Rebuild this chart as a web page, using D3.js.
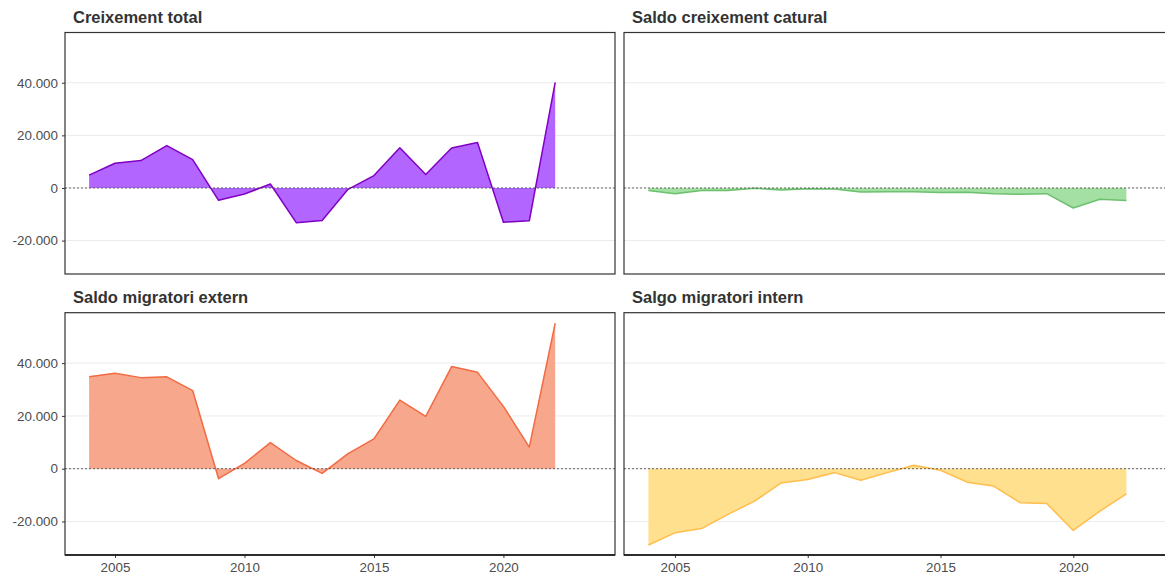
<!DOCTYPE html>
<html>
<head>
<meta charset="utf-8">
<script src="https://cdn.jsdelivr.net/npm/d3@7"></script>
<style>
  body { margin: 0; background: #fff; }
  svg { display: block; font-family: "Liberation Sans", Arial, sans-serif; }
</style>
</head>
<body>
<div id="my_dataviz"></div>
<script>
// data
const years = [2004, 2005, 2006, 2007, 2008, 2009, 2010, 2011, 2012, 2013, 2014, 2015, 2016, 2017, 2018, 2019, 2020, 2021, 2022];

const creixementTotal = [4900, 9400, 10400, 16100, 10800, -4700, -2300, 1500, -13200, -12400, -500, 4700, 15300, 5100, 15200, 17300, -13000, -12500, 40100];
const saldoNatural = [-1000, -2150, -1000, -1000, -100, -750, -250, -400, -1500, -1400, -1400, -1750, -1650, -2150, -2400, -2150, -7600, -4300, -4800];
const saldoExtern = [34800, 36200, 34500, 34800, 29600, -3800, 2000, 9900, 3100, -1800, 5700, 11300, 26000, 19800, 38700, 36500, 23600, 8200, 55100];
const saldoIntern = [-28900, -24300, -22700, -17300, -12300, -5400, -4100, -1500, -4400, -1500, 1300, -600, -5100, -6600, -12900, -13200, -23400, -16100, -9500];

const panelTitles = ["Creixement total", "Saldo creixement catural", "Saldo migratori extern", "Salgo migratori intern"];
const yTicks = [-20000, 0, 20000, 40000];
const xTicks = [2005, 2010, 2015, 2020];

const width = 1165, height = 575;

const svg = d3.select("#my_dataviz")
  .append("svg")
  .attr("width", width)
  .attr("height", height);

// catalan number format 40.000
const ca = d3.formatLocale({ decimal: ",", thousands: ".", grouping: [3], currency: ["", " €"], minus: "-" });
const fmt = ca.format(",d");

// panel positions (right column is cut by the window edge)
const cols = [
  { x0: 65, x1: 615, r0: 89.1, r1: 555.2 },
  { x0: 624, x1: 1188, r0: 648.4, r1: 1126.4 }
];
const rows = [
  { y0: 32.5, y1: 274 },
  { y0: 312.7, y1: 555 }
];

const panels = [
  { title: panelTitles[0], values: creixementTotal, fill: "#b366ff", stroke: "#8000c4", col: 0, row: 0 },
  { title: panelTitles[1], values: saldoNatural, fill: "#a4e0a4", stroke: "#6cc06e", col: 1, row: 0 },
  { title: panelTitles[2], values: saldoExtern, fill: "#f7a78c", stroke: "#f26b43", col: 0, row: 1 },
  { title: panelTitles[3], values: saldoIntern, fill: "#ffe08f", stroke: "#ffbd4d", col: 1, row: 1 }
];

panels.forEach(function (p) {
  const c = cols[p.col], r = rows[p.row];

  const x = d3.scaleLinear()
    .domain([2004, 2022])
    .range([c.r0, c.r1]);

  const y = d3.scaleLinear()
    .domain([-32700, 59100])
    .range([r.y1, r.y0]);

  const g = svg.append("g");

  // gridlines
  g.selectAll(".grid")
    .data(yTicks)
    .join("line")
    .attr("x1", c.x0)
    .attr("x2", c.x1)
    .attr("y1", d => y(d))
    .attr("y2", d => y(d))
    .attr("stroke", "#ebebeb")
    .attr("stroke-width", 1);

  const data = years.map((yr, i) => ({ year: yr, value: p.values[i] }));

  // Area generator
  const area = d3.area()
    .x(d => x(d.year))
    .y0(y(0))
    .y1(d => y(d.value));

  g.append("path")
    .datum(data)
    .attr("fill", p.fill)
    .attr("d", area);

  const line = d3.line()
    .x(d => x(d.year))
    .y(d => y(d.value));

  g.append("path")
    .datum(data)
    .attr("fill", "none")
    .attr("stroke", p.stroke)
    .attr("stroke-width", 1.5)
    .attr("stroke-linejoin", "round")
    .attr("d", line);

  // zero line
  g.append("line")
    .attr("x1", c.x0)
    .attr("x2", c.x1)
    .attr("y1", y(0))
    .attr("y2", y(0))
    .attr("stroke", "#444")
    .attr("stroke-width", 0.8)
    .attr("stroke-dasharray", "2,2");

  // frame
  g.append("rect")
    .attr("x", c.x0)
    .attr("y", r.y0)
    .attr("width", c.x1 - c.x0)
    .attr("height", r.y1 - r.y0)
    .attr("fill", "none")
    .attr("stroke", "#333")
    .attr("stroke-width", 1.2);

  // title
  svg.append("text")
    .attr("x", c.x0 + 8)
    .attr("y", r.y0 - 9.5)
    .attr("font-size", 16.5)
    .attr("font-weight", "bold")
    .attr("fill", "#333")
    .text(p.title);

  // Add Y axis on left column
  if (p.col === 0) {
    const yAxis = g.append("g")
      .attr("transform", `translate(${c.x0}, 0)`)
      .call(d3.axisLeft(y).tickValues(yTicks).tickFormat(fmt).tickSize(3).tickPadding(4));
    yAxis.select(".domain").remove();
    yAxis.selectAll(".tick line").attr("stroke", "#333");
    yAxis.selectAll("text").attr("fill", "#4d4d4d").attr("font-size", 13.4).attr("font-family", "Liberation Sans, Arial, sans-serif");
  }

  // Add X axis on bottom row
  if (p.row === 1) {
    const xAxis = g.append("g")
      .attr("transform", `translate(0, ${r.y1})`)
      .call(d3.axisBottom(x).tickValues(xTicks).tickFormat(d3.format("d")).tickSize(3).tickPadding(4));
    xAxis.select(".domain").remove();
    xAxis.selectAll(".tick line").attr("stroke", "#333");
    xAxis.selectAll("text").attr("fill", "#4d4d4d").attr("font-size", 13.4).attr("font-family", "Liberation Sans, Arial, sans-serif");
    g.append("line")
      .attr("x1", c.x0)
      .attr("x2", c.x1)
      .attr("y1", r.y1)
      .attr("y2", r.y1)
      .attr("stroke", "#111")
      .attr("stroke-width", 1.5);
  }
});
</script>
</body>
</html>
